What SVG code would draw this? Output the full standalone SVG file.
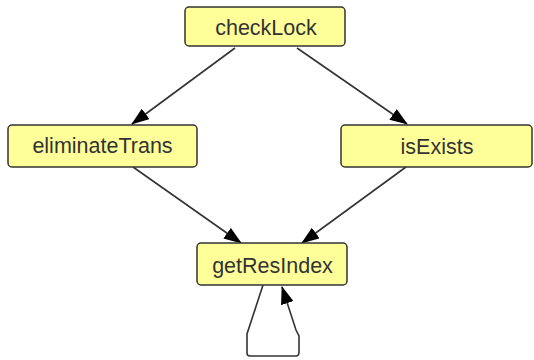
<svg xmlns="http://www.w3.org/2000/svg" width="534" height="360" viewBox="0 0 534 360">
  <style>
    .node rect { fill: #ffff99; stroke: #333333; stroke-width: 1.5; }
    .node text { font-family: "Liberation Sans", Arial, sans-serif; font-size: 21.5px; fill: #333333; text-anchor: middle; }
    .edge { fill: none; stroke: #333333; stroke-width: 1.6; marker-end: url(#arrow); }
  </style>
  <defs>
    <marker id="arrow" markerWidth="18" markerHeight="13" refX="17" refY="6.5" orient="auto" markerUnits="userSpaceOnUse">
      <path d="M0,0 L18,6.5 L0,13 Z" fill="#000000"/>
    </marker>
  </defs>
  <rect width="534" height="360" fill="#ffffff"/>

  <g id="connectors">
    <path class="edge" d="M235,48 L132,124"/>
    <path class="edge" d="M297,48 L407,124"/>
    <path class="edge" d="M133,167 L241,243"/>
    <path class="edge" d="M406,167 L302,243"/>
    <path class="edge" d="M263,285 L247,334 L247,353 Q247,356 250,356 L296,356 Q299,356 299,352 L299,336 L296,330 L282,287"/>
  </g>

  <g id="checkLock" class="node">
    <rect x="185" y="7" width="160" height="39" rx="4"/>
    <text x="266" y="35">checkLock</text>
  </g>
  <g id="eliminateTrans" class="node">
    <rect x="8" y="125" width="189" height="42" rx="4"/>
    <text x="102.5" y="153">eliminateTrans</text>
  </g>
  <g id="isExists" class="node">
    <rect x="341" y="125" width="191" height="42" rx="4"/>
    <text x="437" y="154">isExists</text>
  </g>
  <g id="getResIndex" class="node">
    <rect x="197" y="243" width="150" height="42" rx="4"/>
    <text x="272.5" y="273">getResIndex</text>
  </g>
</svg>
